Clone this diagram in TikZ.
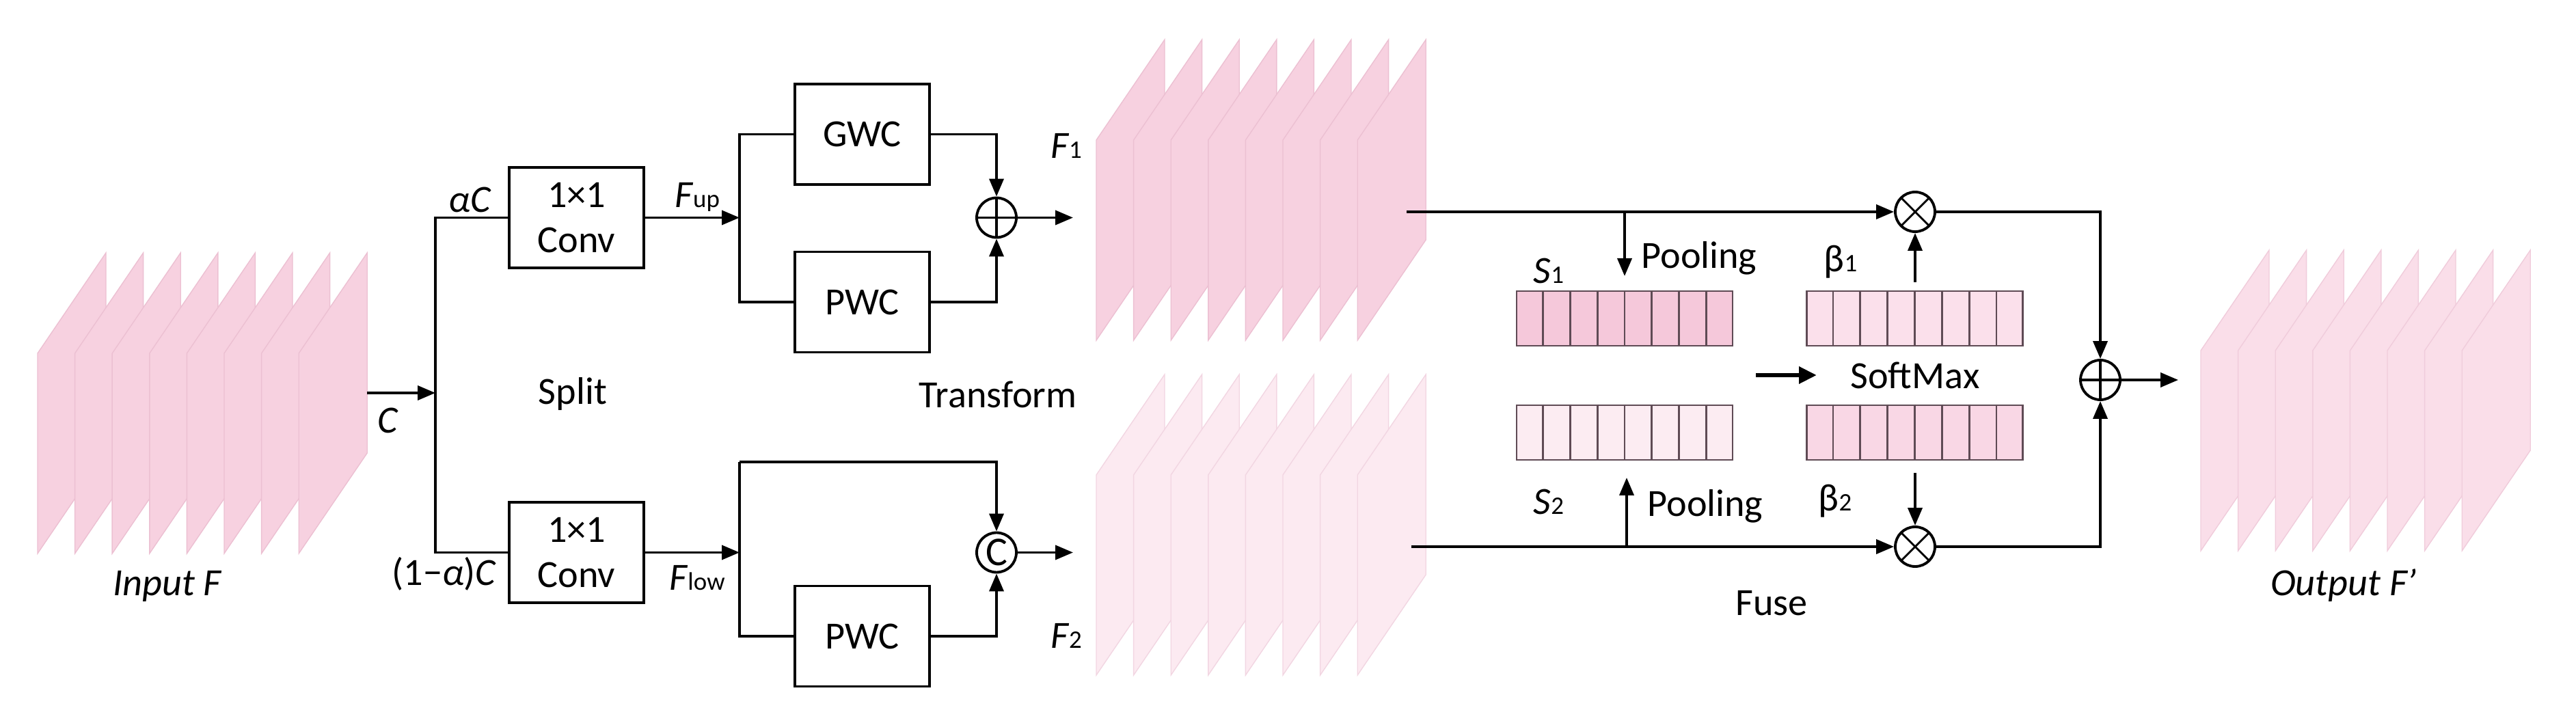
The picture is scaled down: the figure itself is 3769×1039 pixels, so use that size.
\documentclass[tikz,border=0pt]{standalone}
\usepackage{fontspec}
\setmainfont{Carlito}
\usetikzlibrary{arrows.meta,calc}
\newcommand\fsz{\fontsize{16}{19}\selectfont}
\newcommand\sbs[1]{{\fontsize{10.5}{11}\selectfont #1}}
\definecolor{pinkA}{RGB}{247,209,224}\definecolor{pinkAe}{RGB}{236,192,210}
\definecolor{pinkB}{RGB}{252,234,241}\definecolor{pinkBe}{RGB}{242,214,226}
\definecolor{pinkO}{RGB}{250,222,233}\definecolor{pinkOe}{RGB}{240,204,219}
\definecolor{cS1}{RGB}{245,200,218}\definecolor{cB1}{RGB}{251,224,235}
\definecolor{cS2}{RGB}{252,236,242}\definecolor{cB2}{RGB}{249,215,229}
\definecolor{celle}{RGB}{95,75,85}
\newcommand\fmstack[3]{%
  \foreach \i in {0,...,7}{\path[#3] ({#1+\i*54.6},#2) -- ++(100,-147) -- ++(0,293) -- ++(-100,147) -- cycle;}}
\begin{document}
\begin{tikzpicture}[x=0.1mm,y=-0.1mm,
  every node/.style={font=\fsz},
  ln/.style={line width=1.1pt},
  ar/.style={ln,-{Triangle[length=2.6mm,width=2.1mm]}},
  box/.style={draw,ln,rectangle,minimum width=19.7mm,minimum height=14.7mm,inner sep=0pt,align=center},
  op/.style={draw,ln,circle,minimum size=5.8mm,inner sep=0pt},
  oplus/.style={op,path picture={\draw[ln] (path picture bounding box.north)--(path picture bounding box.south) (path picture bounding box.west)--(path picture bounding box.east);}},
  otimes/.style={op,path picture={\draw[line width=0.8pt] ($(path picture bounding box.north west)!0.15!(path picture bounding box.south east)$)--($(path picture bounding box.north west)!0.85!(path picture bounding box.south east)$) ($(path picture bounding box.north east)!0.15!(path picture bounding box.south west)$)--($(path picture bounding box.north east)!0.85!(path picture bounding box.south west)$);}},
  vec/.style={draw=celle,line width=0.8pt,rectangle,minimum width=31.6mm,minimum height=8mm,inner sep=0pt},
]
\useasboundingbox (0,0) rectangle (3769,1039);
% stacks
\fmstack{55}{517}{fill=pinkA,draw=pinkAe,line width=0.4pt}
\fmstack{1604}{205}{fill=pinkA,draw=pinkAe,line width=0.4pt}
\fmstack{1604}{695}{fill=pinkB,draw=pinkBe,line width=0.4pt}
\fmstack{3220}{513}{fill=pinkO,draw=pinkOe,line width=0.4pt}
\node (inF) at (245,858) {\textit{Input F}};
\node (outF) at (3429,857) {\textit{Output F'}};
% split
\node[box] (conv1) at (843.5,318.5) {1×1\\Conv};
\node[box] (conv2) at (843.5,808.5) {1×1\\Conv};
\coordinate (cin) at (537,575);
\coordinate (jc) at (637,575);
\coordinate (jt) at (637,318.5);
\coordinate (jb) at (637,808.5);
\draw[ar] (cin) -- (jc);
\draw[ln] (conv1.west) -- (jt) -- (jb) -- (conv2.west);
\node at (568,615) {\textit{C}};
\node at (688,292) {\textit{α}\textit{C}};
\node at (650,840) {(1−\textit{α})\textit{C}};
\node at (838,577) {Split};
% transform
\node[box] (gwc) at (1261.5,196.5) {GWC};
\node[box] (pwc1) at (1261.5,442) {PWC};
\node[box] (pwc2) at (1261.5,931) {PWC};
\node[oplus] (plus) at (1458,318.5) {};
\node[op,font=\fontsize{17}{17}\selectfont] (cat) at (1458,808.5) {C};
\coordinate (bt) at (1082,318.5);
\coordinate (bb) at (1082,808.5);
\coordinate (ct) at (1082,676);
\draw[ar] (conv1.east) -- (bt);
\draw[ln] (gwc.west) -| (bt) |- (pwc1.west);
\draw[ar] (gwc.east) -| (plus.north);
\draw[ar] (pwc1.east) -| (plus.south);
\draw[ar] (conv2.east) -- (bb);
\draw[ln] (ct) -- (bb) |- (pwc2.west);
\draw[ar] (ct) -| (cat.north);
\draw[ar] (pwc2.east) -| (cat.south);
\coordinate (f1in) at (1570,318.5);
\coordinate (f2in) at (1570,808.5);
\draw[ar] (plus.east) -- (f1in);
\draw[ar] (cat.east) -- (f2in);
\node at (1020,288) {\textit{F}\sbs{up}};
\node at (1020,846) {\textit{F}\sbs{low}};
\node at (1560,213) {\textit{F}\sbs{1}};
\node at (1560,930) {\textit{F}\sbs{2}};
\node at (1460,577) {Transform};
% fuse
\node[vec,fill=cS1] (s1) at (2377,466) {};
\node[vec,fill=cB1] (b1) at (2801.5,466) {};
\node[vec,fill=cS2] (s2) at (2377,633) {};
\node[vec,fill=cB2] (b2) at (2801.5,633) {};
\foreach \n in {s1,b1,s2,b2}{\foreach \k in {1,...,7}{\draw[draw=celle,line width=0.8pt] ($(\n.north west)!\k/8!(\n.north east)$) -- ($(\n.south west)!\k/8!(\n.south east)$);}}
\node[otimes] (m1) at (2802,310) {};
\node[otimes] (m2) at (2802,800) {};
\node[oplus] (add) at (3073,556) {};
\coordinate (f1out) at (2058,310);
\coordinate (f2out) at (2065,800);
\coordinate (p1) at (2377,310);
\coordinate (p1e) at (2377,404);
\coordinate (p2) at (2380,800);
\coordinate (p2e) at (2380,699);
\coordinate (bb1) at (2802,413);
\coordinate (bb2) at (2802,692);
\draw[ar] (f1out) -- (m1.west);
\draw[ar] (f2out) -- (m2.west);
\draw[ar] (p1) -- (p1e);
\draw[ar] (p2) -- (p2e);
\draw[ar] (bb1) -- (m1.south);
\draw[ar] (bb2) -- (m2.north);
\draw[ar] (m1.east) -| (add.north);
\draw[ar] (m2.east) -| (add.south);
\coordinate (oin) at (3187,556);
\draw[ar] (add.east) -- (oin);
\coordinate (sma) at (2569,549);
\coordinate (smb) at (2658,549);
\draw[line width=1.8pt,-{Triangle[length=2.6mm,width=2.4mm]}] (sma) -- (smb);
\node at (2802,549) {SoftMax};
\node at (2486,378) {Pooling};
\node at (2495,741) {Pooling};
\node at (2266,396) {\textit{S}\sbs{1}};
\node at (2266,734) {\textit{S}\sbs{2}};
\node at (2693,383) {β\sbs{1}};
\node at (2685,733) {β\sbs{2}};
\node at (2592,883) {Fuse};
\end{tikzpicture}
\end{document}
